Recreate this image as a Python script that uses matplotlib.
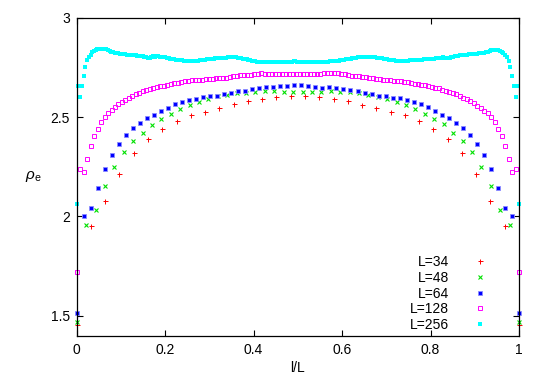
import matplotlib
matplotlib.use('Agg')

import matplotlib.pyplot as plt
import numpy as np

plt.rcParams['font.family'] = ['Liberation Sans', 'DejaVu Sans']
plt.rcParams['mathtext.fontset'] = 'custom'
plt.rcParams['mathtext.rm'] = 'Liberation Sans'
plt.rcParams['mathtext.it'] = 'Liberation Sans:italic'

# rho_e, one value per site, left to right
rho_34 = [1.455, 1.952, 2.076, 2.215, 2.317, 2.388, 2.441, 2.478, 2.510, 2.528, 2.547,
          2.564, 2.582, 2.592, 2.602, 2.607, 2.607, 2.600, 2.592, 2.582, 2.562, 2.547,
          2.528, 2.510, 2.478, 2.441, 2.388, 2.317, 2.215, 2.076, 1.952, 1.455]

rho_48 = [1.470, 1.957, 2.030, 2.151, 2.250, 2.326, 2.378, 2.420, 2.462, 2.492, 2.517,
          2.540, 2.559, 2.576, 2.592, 2.606, 2.609, 2.619, 2.623, 2.628, 2.630, 2.630,
          2.625, 2.625, 2.627, 2.625, 2.627, 2.630, 2.627, 2.625, 2.623, 2.609, 2.602,
          2.592, 2.576, 2.559, 2.540, 2.517, 2.492, 2.463, 2.420, 2.378, 2.326, 2.250,
          2.151, 2.030, 1.957, 1.470]

rho_64 = [1.515, 2.000, 2.045, 2.144, 2.237, 2.307, 2.366, 2.410, 2.443, 2.468, 2.493,
          2.512, 2.532, 2.548, 2.564, 2.577, 2.587, 2.593, 2.602, 2.607, 2.607, 2.617,
          2.622, 2.630, 2.633, 2.640, 2.648, 2.649, 2.653, 2.656, 2.658, 2.660,
          2.661, 2.656, 2.653, 2.648, 2.649, 2.648, 2.639, 2.634, 2.629, 2.621, 2.618,
          2.607, 2.604, 2.597, 2.594, 2.584, 2.576, 2.566, 2.549, 2.533, 2.512, 2.493,
          2.468, 2.443, 2.410, 2.366, 2.307, 2.237, 2.144, 2.045, 2.000, 1.515]

rho_128 = [1.723, 2.239, 2.222, 2.289, 2.356, 2.403, 2.441, 2.473, 2.498, 2.518,
           2.535, 2.552, 2.564, 2.575, 2.587, 2.596, 2.606, 2.616, 2.623, 2.630,
           2.636, 2.641, 2.646, 2.651, 2.654, 2.658, 2.662, 2.665, 2.669, 2.672,
           2.676, 2.679, 2.682, 2.684, 2.686, 2.687, 2.688, 2.690, 2.691, 2.693,
           2.695, 2.696, 2.697, 2.699, 2.702, 2.706, 2.709, 2.710, 2.711, 2.712,
           2.714, 2.717, 2.719, 2.720, 2.719, 2.718, 2.717, 2.717, 2.716, 2.715,
           2.715, 2.715, 2.716, 2.718, 2.718, 2.717, 2.716, 2.715, 2.715, 2.716,
           2.718, 2.720, 2.721, 2.722, 2.722, 2.720, 2.718, 2.715, 2.712, 2.709,
           2.707, 2.706, 2.704, 2.702, 2.699, 2.697, 2.694, 2.691, 2.689, 2.686,
           2.684, 2.682, 2.680, 2.679, 2.676, 2.674, 2.671, 2.668, 2.664, 2.661,
           2.659, 2.656, 2.652, 2.648, 2.644, 2.637, 2.632, 2.627, 2.621, 2.614,
           2.607, 2.598, 2.590, 2.580, 2.569, 2.556, 2.545, 2.532, 2.518, 2.498,
           2.473, 2.441, 2.403, 2.356, 2.289, 2.222, 2.239, 1.723]

rho_256 = [2.064, 2.654, 2.599, 2.654, 2.708, 2.752, 2.785, 2.800, 2.812, 2.825, 2.834, 2.838,
           2.841, 2.842, 2.842, 2.843, 2.844, 2.840, 2.837, 2.832, 2.828, 2.826, 2.824, 2.822,
           2.821, 2.819, 2.818, 2.817, 2.815, 2.814, 2.813, 2.812, 2.811, 2.810, 2.810, 2.809,
           2.808, 2.806, 2.805, 2.803, 2.800, 2.798, 2.797, 2.801, 2.805, 2.804, 2.805, 2.805,
           2.803, 2.802, 2.801, 2.800, 2.798, 2.796, 2.794, 2.792, 2.790, 2.789, 2.788, 2.787,
           2.786, 2.785, 2.784, 2.783, 2.782, 2.781, 2.781, 2.780, 2.780, 2.781, 2.783, 2.785,
           2.787, 2.788, 2.789, 2.790, 2.791, 2.792, 2.793, 2.794, 2.795, 2.796, 2.797, 2.797,
           2.798, 2.799, 2.799, 2.800, 2.801, 2.801, 2.802, 2.802, 2.801, 2.799, 2.797, 2.795,
           2.794, 2.792, 2.790, 2.788, 2.786, 2.784, 2.782, 2.780, 2.779, 2.778, 2.777, 2.776,
           2.776, 2.775, 2.775, 2.776, 2.776, 2.777, 2.777, 2.777, 2.777, 2.777, 2.777, 2.777,
           2.777, 2.778, 2.778, 2.779, 2.779, 2.780, 2.780, 2.779, 2.778, 2.778, 2.777, 2.777,
           2.777, 2.777, 2.777, 2.776, 2.776, 2.776, 2.775, 2.775, 2.775, 2.775, 2.776, 2.777,
           2.778, 2.779, 2.780, 2.781, 2.782, 2.782, 2.783, 2.784, 2.785, 2.787, 2.788, 2.790,
           2.791, 2.793, 2.794, 2.796, 2.797, 2.799, 2.800, 2.801, 2.802, 2.802, 2.802, 2.802,
           2.802, 2.802, 2.802, 2.801, 2.800, 2.799, 2.798, 2.797, 2.795, 2.793, 2.792, 2.790,
           2.788, 2.787, 2.786, 2.785, 2.784, 2.783, 2.782, 2.782, 2.782, 2.783, 2.784, 2.784,
           2.785, 2.786, 2.786, 2.787, 2.788, 2.788, 2.789, 2.789, 2.790, 2.790, 2.791, 2.791,
           2.792, 2.793, 2.794, 2.795, 2.796, 2.798, 2.799, 2.800, 2.799, 2.796, 2.795, 2.799,
           2.802, 2.804, 2.805, 2.806, 2.808, 2.810, 2.811, 2.812, 2.813, 2.814, 2.815, 2.816,
           2.816, 2.817, 2.818, 2.819, 2.821, 2.822, 2.823, 2.824, 2.826, 2.827, 2.831, 2.836,
           2.839, 2.839, 2.837, 2.836, 2.832, 2.827, 2.822, 2.810, 2.800, 2.780, 2.752, 2.708,
           2.654, 2.600, 2.654, 2.064]

labels = ['L=34', 'L=48', 'L=64', 'L=128', 'L=256']
series = [rho_34, rho_48, rho_64, rho_128, rho_256]

xticks = [0, 0.2, 0.4, 0.6, 0.8, 1]
xticklabels = ['0', '0.2', '0.4', '0.6', '0.8', '1']
yticks = [1.5, 2, 2.5, 3]
yticklabels = ['1.5', '2', '2.5', '3']

# gnuplot-ish point styles
styles = [
    dict(marker='+', ms=3.6, mew=0.7, color='#ff0000'),
    dict(marker='x', ms=3.0, mew=0.8, color='#00e000'),
    dict(marker='s', ms=3.0, mew=0.6, color='#0000ff', mec='#8c8cff'),
    dict(marker='s', ms=3.2, mew=0.7, color='#ff00ff', mfc='none'),
    dict(marker='s', ms=2.8, mew=0, color='#00ffff'),
]

fig = plt.figure(figsize=(5.45, 3.82), dpi=100)
ax = fig.add_axes([0.1407, 0.1212, 0.8116, 0.8325])

for vals, lab, st in zip(series, labels, styles):
    x = np.arange(len(vals)) / (len(vals) - 1)
    ax.plot(x, vals, linestyle='none', label=lab, clip_on=False, **st)

ax.set_xlim(0, 1)
ax.set_ylim(1.4, 3)
ax.set_xticks(xticks)
ax.set_xticklabels(xticklabels)
ax.set_yticks(yticks)
ax.set_yticklabels(yticklabels)
ax.tick_params(direction='in', length=4, width=0.8, top=True, right=True,
               labelsize=10, pad=5)
for s in ax.spines.values():
    s.set_linewidth(0.9)

ax.set_xlabel('l/L', fontsize=10, labelpad=3)
ax.set_ylabel(r'$\rho_{\mathrm{e}}$', fontsize=11, rotation=0, labelpad=12, va='center')

leg = ax.legend(loc='lower right', bbox_to_anchor=(0.943, 0.012), frameon=False,
                markerfirst=False, fontsize=10, handlelength=2, handletextpad=1.2,
                labelspacing=0.12, borderpad=0, borderaxespad=0)

fig.savefig('out.png', dpi=100)
